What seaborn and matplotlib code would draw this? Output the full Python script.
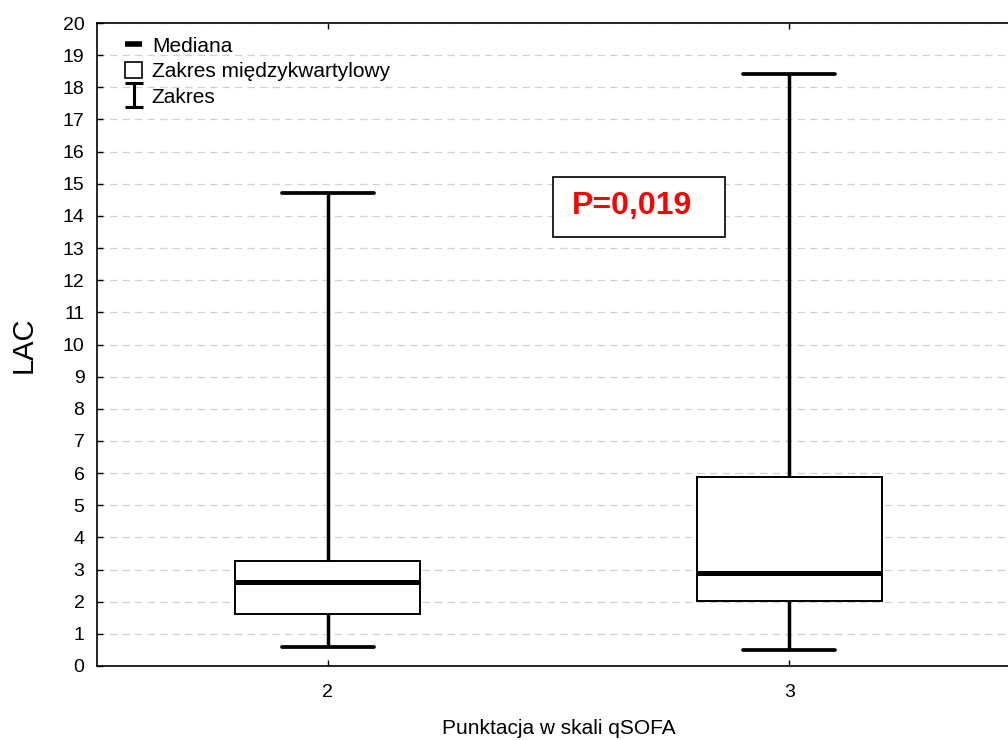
import numpy as np
import pandas as pd
import matplotlib
matplotlib.use("Agg")
import matplotlib.pyplot as plt
import seaborn as sns
from matplotlib.lines import Line2D
from matplotlib.patches import Patch, Rectangle
from matplotlib.path import Path

# ---- data ----
categories = ["2", "3"]
lac_min = [0.6, 0.5]
lac_q1 = [1.62, 2.01]
lac_median = [2.6, 2.9]
lac_q3 = [3.27, 5.87]
lac_max = [14.7, 18.4]
y_ticks = list(range(0, 21))
p_text = "P=0,019"
legend_labels = ["Mediana", "Zakres międzykwartylowy", "Zakres"]

# five-point samples whose quartiles equal the summary values
rows = []
for c, a, b, m, d, e in zip(categories, lac_min, lac_q1, lac_median, lac_q3, lac_max):
    for v in (a, b, m, d, e):
        rows.append({"qSOFA": c, "LAC": v})
df = pd.DataFrame(rows)

sns.set_theme(style="white")
plt.rcParams["font.family"] = ["Liberation Sans", "DejaVu Sans"]
plt.rcParams["text.color"] = "black"
plt.rcParams["axes.labelcolor"] = "black"

fig = plt.figure(figsize=(10.08, 7.40), dpi=100)
ax = fig.add_axes([97 / 1008, 74 / 740, 923 / 1008, 643 / 740])

sns.boxplot(
    data=df, x="qSOFA", y="LAC", order=categories, ax=ax,
    whis=(0, 100), width=0.4, color="white", linecolor="black",
    showfliers=False,
    boxprops=dict(linewidth=1.4, edgecolor="black", facecolor="white", zorder=3),
    whiskerprops=dict(linewidth=2.5, color="black", zorder=3),
    capprops=dict(linewidth=2.7, color="black", zorder=3),
    medianprops=dict(linewidth=3.6, color="black", zorder=4),
)

ax.set_xlim(-0.5, 1.5)
ax.set_ylim(0, 20)
ax.set_yticks(y_ticks)
ax.set_yticklabels([str(t) for t in y_ticks])
ax.yaxis.grid(True, linestyle=(0, (6, 4)), color="#d2d2d2", linewidth=0.9)
ax.xaxis.grid(False)
ax.set_axisbelow(True)

for s in ax.spines.values():
    s.set_visible(True)
    s.set_color("black")
    s.set_linewidth(1.2)

ax.tick_params(axis="both", direction="in", length=4, width=1, colors="black",
               labelsize=14, top=True, right=True, left=True, bottom=True)
ax.tick_params(axis="y", pad=9)
ax.tick_params(axis="x", pad=13)

ax.set_xlabel("Punktacja w skali qSOFA", fontsize=15, labelpad=13, color="black")
ax.set_ylabel("LAC", fontsize=21, labelpad=18, color="black")

# legend
i_path = Path(
    [(-0.74, 1), (0.74, 1), (0, 1), (0, -1), (-0.74, -1), (0.74, -1)],
    [Path.MOVETO, Path.LINETO, Path.MOVETO, Path.LINETO, Path.MOVETO, Path.LINETO],
)
handles = [
    Line2D([], [], color="black", linewidth=4, solid_capstyle="butt"),
    Patch(facecolor="white", edgecolor="black", linewidth=1.2),
    Line2D([], [], color="black", linestyle="none", marker=i_path,
           markersize=17, markeredgewidth=2.2, markerfacecolor="none"),
]
ax.legend(handles, legend_labels, loc="upper left",
          bbox_to_anchor=(11 / 923, 1 + 3 / 643),
          frameon=False, fontsize=15, handlelength=0.85, handleheight=0.8,
          handletextpad=0.45, labelspacing=0.3, borderaxespad=0.2,
          borderpad=0.6)

# p-value box
ax.add_patch(Rectangle((456 / 923, (666 - 236.7) / 643), 172 / 923, 60 / 643,
                       transform=ax.transAxes, facecolor="white",
                       edgecolor="black", linewidth=1.2, zorder=5))
ax.text(535.5 / 923, (666 - 206) / 643, p_text, transform=ax.transAxes,
        ha="center", va="center", color="#ff0000", fontsize=23,
        fontweight="bold", zorder=6)

fig.savefig("out.png", dpi=100)
